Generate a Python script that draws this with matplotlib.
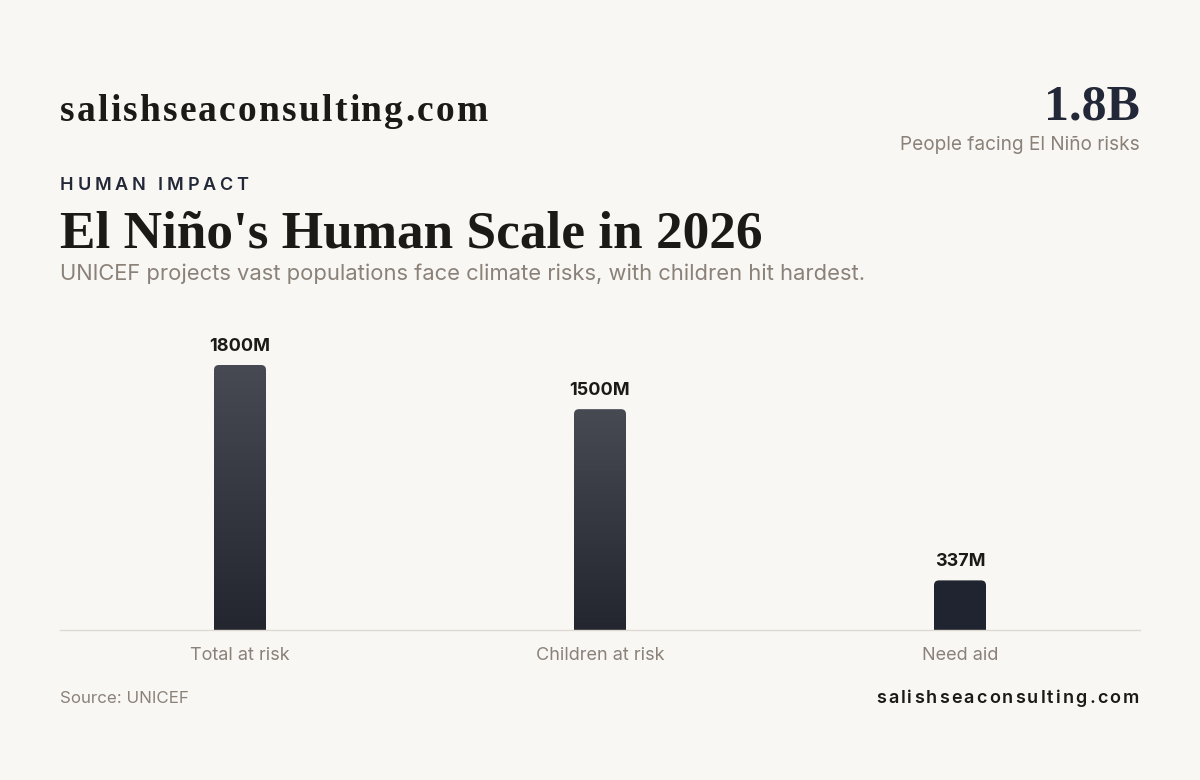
import numpy as np
import matplotlib
matplotlib.use('Agg')
import matplotlib.pyplot as plt
from matplotlib.patches import FancyBboxPatch
from matplotlib.colors import LinearSegmentedColormap

categories = ['Total at risk', 'Children at risk', 'Need aid']
values = [1800, 1500, 337]
value_labels = ['1800M', '1500M', '337M']
# gradient (top, bottom) per bar; last bar is solid
bar_colors = [('#474953', '#23262f'), ('#474953', '#23262f'), ('#1f2430', '#1f2430')]

BG = '#f9f7f3'
INK = '#1c1a17'
NAVY = '#232838'
GREY = '#8a8179'

W, H = 1200, 780
fig = plt.figure(figsize=(12, 7.8), dpi=100, facecolor=BG)


def fx(px):
    return px / W


def fy(py):
    return 1 - py / H


def spaced(x, y, s, tracking, ha='left', **kw):
    # draw text letter by letter to get letter spacing
    fig.canvas.draw()
    r = fig.canvas.get_renderer()
    widths = []
    for ch in s:
        if ch == ' ':
            t = fig.text(0, 0, 'a a', **kw)
            t2 = fig.text(0, 0, 'aa', **kw)
            w = t.get_window_extent(r).width - t2.get_window_extent(r).width
            t2.remove()
        else:
            t = fig.text(0, 0, ch, **kw)
            w = t.get_window_extent(r).width
        t.remove()
        widths.append(w)
    total = sum(widths) + tracking * (len(s) - 1)
    if ha == 'right':
        x = x - total
    for ch, w in zip(s, widths):
        if ch != ' ':
            fig.text(fx(x), fy(y), ch, ha='left', va='baseline', **kw)
        x += w + tracking


# header
spaced(60, 121, 'salishseaconsulting.com', 2.2, family='Liberation Serif',
       weight='bold', size=27, color=INK)
fig.text(fx(1140), fy(119), '1.8B', ha='right', va='baseline', family='Liberation Serif',
         weight='bold', size=36, color=NAVY)
fig.text(fx(1140), fy(150), 'People facing El Niño risks', ha='right', va='baseline',
         family='Inter', size=13.7, color=GREY)

spaced(60, 190, 'HUMAN IMPACT', 3.8, family='Inter', weight='semibold', size=13, color=NAVY)
fig.text(fx(60), fy(247), "El Niño's Human Scale in 2026", ha='left', va='baseline',
         family='Liberation Serif', weight='bold', size=38.3, color=INK)
fig.text(fx(60), fy(280), 'UNICEF projects vast populations face climate risks, with children hit hardest.',
         ha='left', va='baseline', family='Inter', size=15.8, color=GREY)

# chart
ax = fig.add_axes([fx(60), fy(630), fx(1080), (630 - 330) / H])
ax.set_facecolor(BG)
ymax = 1800 * 300 / 265
for s in ['top', 'right', 'left']:
    ax.spines[s].set_visible(False)
ax.spines['bottom'].set_color('#dedad3')
ax.spines['bottom'].set_linewidth(1)
ax.set_yticks([])
ax.set_xticks(range(len(categories)))
ax.set_xticklabels(categories, family='Inter', size=13, color=GREY)
ax.tick_params(axis='x', length=0, pad=12)

bw = 52 / 360
rad_px = 5
px_x = 3 / 1080
px_y = ymax / 300
for i, (v, lab, (ctop, cbot)) in enumerate(zip(values, value_labels, bar_colors)):
    x0 = i - bw / 2
    patch = FancyBboxPatch((x0, -ymax * 0.05), bw, v + ymax * 0.05,
                           boxstyle='round,pad=0,rounding_size=%f' % (rad_px * px_x),
                           mutation_aspect=px_y / px_x,
                           facecolor='none', edgecolor='none', transform=ax.transData)
    ax.add_patch(patch)
    cmap = LinearSegmentedColormap.from_list('g%d' % i, [cbot, ctop])
    grad = np.linspace(0, 1, 256).reshape(-1, 1)
    im = ax.imshow(grad, cmap=cmap, origin='lower', aspect='auto',
                   extent=[x0, x0 + bw, 0, v], interpolation='bilinear', zorder=2)
    im.set_clip_path(patch)
    ax.text(i, v + 14 * px_y, lab, ha='center', va='baseline', family='Inter',
            weight='bold', size=13, color=INK)
ax.set_xlim(-0.5, 2.5)
ax.set_ylim(0, ymax)

# footer
fig.text(fx(60), fy(703), 'Source: UNICEF', ha='left', va='baseline', family='Inter',
         size=12.2, color=GREY)
spaced(1139, 703, 'salishseaconsulting.com', 2.1, ha='right', family='Inter',
       weight='semibold', size=13, color=INK)

fig.savefig('out.png', dpi=100, facecolor=BG)
